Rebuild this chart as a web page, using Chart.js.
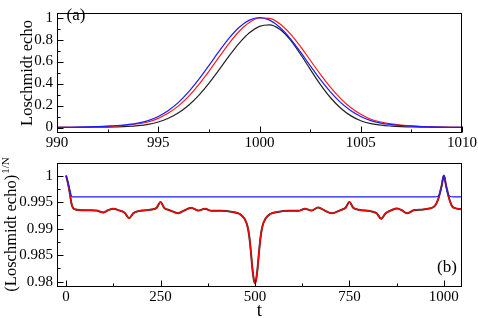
<!DOCTYPE html>
<html>
<head>
<meta charset="utf-8">
<script src="https://cdn.jsdelivr.net/npm/chart.js@4/dist/chart.umd.min.js"></script>
<style>
  html, body { margin: 0; padding: 0; background: #fff; }
  #wrap { position: relative; width: 478px; height: 318px; overflow: hidden; }
  canvas { position: absolute; left: 0; }
  #top { top: 0; }
  #bottom { top: 150px; }
</style>
</head>
<body>
<div id="wrap">
  <canvas id="top" width="478" height="152"></canvas>
  <canvas id="bottom" width="478" height="168"></canvas>
</div>
<script>
// panel (a): Loschmidt echo around t = 1000
var tTop = [990, 990.5, 991, 991.5, 992, 992.5, 993, 993.5, 994, 994.5, 995, 995.5, 996, 996.5, 997, 997.5, 998, 998.5, 999, 999.5,
  1000, 1000.5, 1001, 1001.5, 1002, 1002.5, 1003, 1003.5, 1004, 1004.5, 1005, 1005.5, 1006, 1006.5, 1007, 1007.5, 1008, 1008.5, 1009, 1009.5, 1010];
var blueTop = [0.001, 0.002, 0.003, 0.005, 0.008, 0.012, 0.018, 0.027, 0.040, 0.062, 0.100, 0.155, 0.229, 0.324, 0.437, 0.563, 0.692, 0.813, 0.912, 0.977,
  1.000, 0.977, 0.912, 0.813, 0.692, 0.563, 0.437, 0.324, 0.229, 0.155, 0.100, 0.062, 0.040, 0.027, 0.018, 0.012, 0.008, 0.005, 0.003, 0.002, 0.001];
var redTop = [0.001, 0.0015, 0.0025, 0.004, 0.0065, 0.010, 0.015, 0.023, 0.034, 0.050, 0.083, 0.131, 0.197, 0.283, 0.390, 0.511, 0.640, 0.766, 0.876, 0.956,
  0.996, 0.992, 0.943, 0.856, 0.742, 0.614, 0.486, 0.367, 0.265, 0.182, 0.120, 0.075, 0.050, 0.033, 0.022, 0.014, 0.009, 0.006, 0.004, 0.002, 0.0015];
var blackTop = [0.0005, 0.0008, 0.001, 0.0015, 0.003, 0.004, 0.006, 0.010, 0.017, 0.029, 0.050, 0.084, 0.134, 0.203, 0.293, 0.402, 0.524, 0.651, 0.768, 0.862,
  0.920, 0.934, 0.893, 0.801, 0.673, 0.531, 0.393, 0.273, 0.178, 0.108, 0.062, 0.036, 0.021, 0.013, 0.008, 0.005, 0.003, 0.002, 0.001, 0.0008, 0.0005];

// panel (b): (Loschmidt echo)^(1/N) over the whole run
var tBlue = [0, 5, 10, 14, 17, 975, 983, 988, 992, 995, 998, 1000, 1002, 1005, 1008, 1012, 1017, 1025, 1050];
var echoBlue = [1.0, 0.9987, 0.9973, 0.9962, 0.9960, 0.9960, 0.99605, 0.9964, 0.9972, 0.9984, 0.99965, 1.0, 0.99965, 0.9984, 0.9972, 0.9964, 0.99605, 0.9960, 0.9960];

var tRed = [0, 4, 8, 12, 15, 19, 25, 40, 60, 80, 99, 112, 125, 140, 155, 167, 178, 192, 210, 227, 240, 250, 260, 275, 297, 312, 331, 350, 368, 385, 410, 440, 460, 472,
  480, 485, 489, 493, 496, 498, 500, 502, 504, 507, 511, 515, 520, 528, 540, 560, 590, 615, 632, 650, 667, 685, 703, 725, 740, 750, 760, 775, 805, 822, 834, 846,
  862, 876, 890, 902, 920, 946, 965, 975, 982, 987, 991, 995, 998, 1000, 1002, 1005, 1009, 1013, 1018, 1022, 1030, 1040, 1050];
var echoRed = [1.0, 0.9989, 0.9975, 0.9957, 0.9945, 0.99385, 0.99360, 0.99348, 0.99345, 0.99340, 0.99305, 0.99350, 0.99375, 0.99345, 0.99300, 0.99195, 0.99290,
  0.99330, 0.99345, 0.99360, 0.99395, 0.99500, 0.99390, 0.99345, 0.99290, 0.99340, 0.99393, 0.99340, 0.99375, 0.99335, 0.99335, 0.99315, 0.99275, 0.99190,
  0.99050, 0.98850, 0.98580, 0.98260, 0.98080, 0.98000, 0.97970, 0.98000, 0.98080, 0.98260, 0.98580, 0.98850, 0.99050, 0.99190, 0.99275, 0.99315, 0.99335,
  0.99335, 0.99375, 0.99340, 0.99400, 0.99340, 0.99288, 0.99345, 0.99395, 0.99500, 0.99395, 0.99355, 0.99330, 0.99290, 0.99185, 0.99290, 0.99350, 0.99380,
  0.99340, 0.99288, 0.99345, 0.99362, 0.99385, 0.99420, 0.99500, 0.99600, 0.99720, 0.99840, 0.99960, 1.0, 0.99960, 0.99840, 0.99720, 0.99590, 0.99480,
  0.99420, 0.99385, 0.99368, 0.99363];
var echoBlack = echoRed.slice();

function pts(xs, ys) {
  return xs.map(function (x, i) { return { x: x, y: ys[i] }; });
}

Chart.defaults.font.family = "'Liberation Serif', 'DejaVu Serif', serif";
Chart.defaults.font.size = 15;
Chart.defaults.color = "#000";

// frame, inward tick marks, titles and panel tags
var framePlugin = {
  id: "frame",
  afterDraw: function (chart, args, o) {
    var ctx = chart.ctx, a = chart.chartArea;
    var L = Math.round(a.left) + 0.5, R = Math.round(a.right) - 0.5;
    var T = Math.round(a.top) + 0.5, B = Math.round(a.bottom) - 0.5;
    ctx.save();
    ctx.strokeStyle = "#000";
    ctx.lineWidth = 1;
    ctx.strokeRect(L, T, R - L, B - T);
    var sx = chart.scales.x, sy = chart.scales.y;
    ctx.beginPath();
    sx.ticks.forEach(function (t) {
      if (t.value < sx.min || t.value > sx.max) return;
      var p = Math.round(sx.getPixelForValue(t.value)) + 0.5;
      var len = t.label !== "" ? 6 : 3;
      ctx.moveTo(p, B);
      ctx.lineTo(p, B - len);
    });
    sy.ticks.forEach(function (t) {
      if (t.value < sy.min || t.value > sy.max) return;
      var p = Math.round(sy.getPixelForValue(t.value)) + 0.5;
      var len = t.label !== "" ? 6 : 3;
      ctx.moveTo(L, p);
      ctx.lineTo(L + len, p);
    });
    ctx.stroke();

    ctx.fillStyle = "#000";
    ctx.font = "17px 'Liberation Serif'";
    ctx.textAlign = "center";
    ctx.textBaseline = "middle";
    ctx.fillText(o.tag, o.tagX, o.tagY);

    // rotated y title
    var cy = (a.top + a.bottom) / 2;
    ctx.save();
    ctx.translate(o.titleX, cy);
    ctx.rotate(-Math.PI / 2);
    ctx.textBaseline = "alphabetic";
    ctx.font = "16.5px 'Liberation Serif'";
    var w = ctx.measureText(o.title).width;
    var ws = 0;
    if (o.sup) {
      ctx.font = "11px 'Liberation Serif'";
      ws = ctx.measureText(o.sup).width;
    }
    var x0 = -(w + ws) / 2;
    ctx.textAlign = "left";
    ctx.font = "16.5px 'Liberation Serif'";
    ctx.fillText(o.title, x0, 0);
    if (o.sup) {
      ctx.font = "11px 'Liberation Serif'";
      ctx.fillText(o.sup, x0 + w + 1, -7);
    }
    ctx.restore();

    if (o.xTitle) {
      ctx.font = "19px 'Liberation Serif'";
      ctx.textBaseline = "alphabetic";
      ctx.textAlign = "center";
      ctx.fillText(o.xTitle, (a.left + a.right) / 2, o.xTitleY);
    }
    ctx.restore();
  }
};

function axis(min, max, step, fmt, fit) {
  return {
    type: "linear",
    min: min,
    max: max,
    grid: { display: false, drawTicks: false },
    border: { display: false },
    ticks: { stepSize: step, includeBounds: false, autoSkip: false, maxRotation: 0, callback: fmt },
    afterFit: fit
  };
}

var topX = axis(990, 1010, 2.5, function (v) {
  return Math.round(v * 2) % 10 === 0 ? String(v) : "";
}, function (s) { s.height = 19; });
topX.ticks.padding = 1;
var topY = axis(-0.05, 1.0417, 0.1, function (v) {
  var r = Math.round(v * 10);
  return r % 2 === 0 ? String(r / 10) : "";
}, function (s) { s.width = 57; });
topY.ticks.padding = 4;

new Chart(document.getElementById("top"), {
  type: "line",
  data: {
    datasets: [
      { data: pts(tTop, blueTop), borderColor: "#1a1aff", borderWidth: 1.2 },
      { data: pts(tTop, redTop), borderColor: "#ff1a1a", borderWidth: 1.2 },
      { data: pts(tTop, blackTop), borderColor: "#222", borderWidth: 1.2 }
    ]
  },
  options: {
    responsive: false,
    animation: false,
    layout: { padding: { top: 2, right: 16, left: 0, bottom: 0 } },
    elements: { point: { radius: 0 }, line: { cubicInterpolationMode: "monotone" } },
    plugins: {
      legend: { display: false },
      tooltip: { enabled: false },
      frame: { tag: "(a)", tagX: 76, tagY: 16, title: "Loschmidt echo", titleX: 32 }
    },
    scales: { x: topX, y: topY }
  },
  plugins: [framePlugin]
});

var botX = axis(-24, 1048, 125, function (v) {
  return v % 250 === 0 ? String(v) : "";
}, function (s) { s.height = 31; });
botX.ticks.padding = 1;
var botY = axis(0.97898, 1.00238, 0.0025, function (v) {
  var r = Math.round(v * 1000);
  return r % 5 === 0 ? String(r / 1000) : "";
}, function (s) { s.width = 57; });
botY.ticks.padding = 4;

new Chart(document.getElementById("bottom"), {
  type: "line",
  data: {
    datasets: [
      { data: pts(tBlue, echoBlue), borderColor: "#1a1aff", borderWidth: 1.2 },
      { data: pts(tRed, echoRed), borderColor: "#ff0000", borderWidth: 1.4 },
      { data: pts(tRed, echoBlack), borderColor: "#333", borderWidth: 2.0 }
    ]
  },
  options: {
    responsive: false,
    animation: false,
    layout: { padding: { top: 6, right: 16, left: 0, bottom: 0 } },
    elements: { point: { radius: 0 }, line: { cubicInterpolationMode: "monotone" } },
    plugins: {
      legend: { display: false },
      tooltip: { enabled: false },
      frame: { tag: "(b)", tagX: 447, tagY: 118, title: "(Loschmidt echo)", sup: "1/N", titleX: 16, xTitle: "t", xTitleY: 166 }
    },
    scales: { x: botX, y: botY }
  },
  plugins: [framePlugin]
});
</script>
</body>
</html>
